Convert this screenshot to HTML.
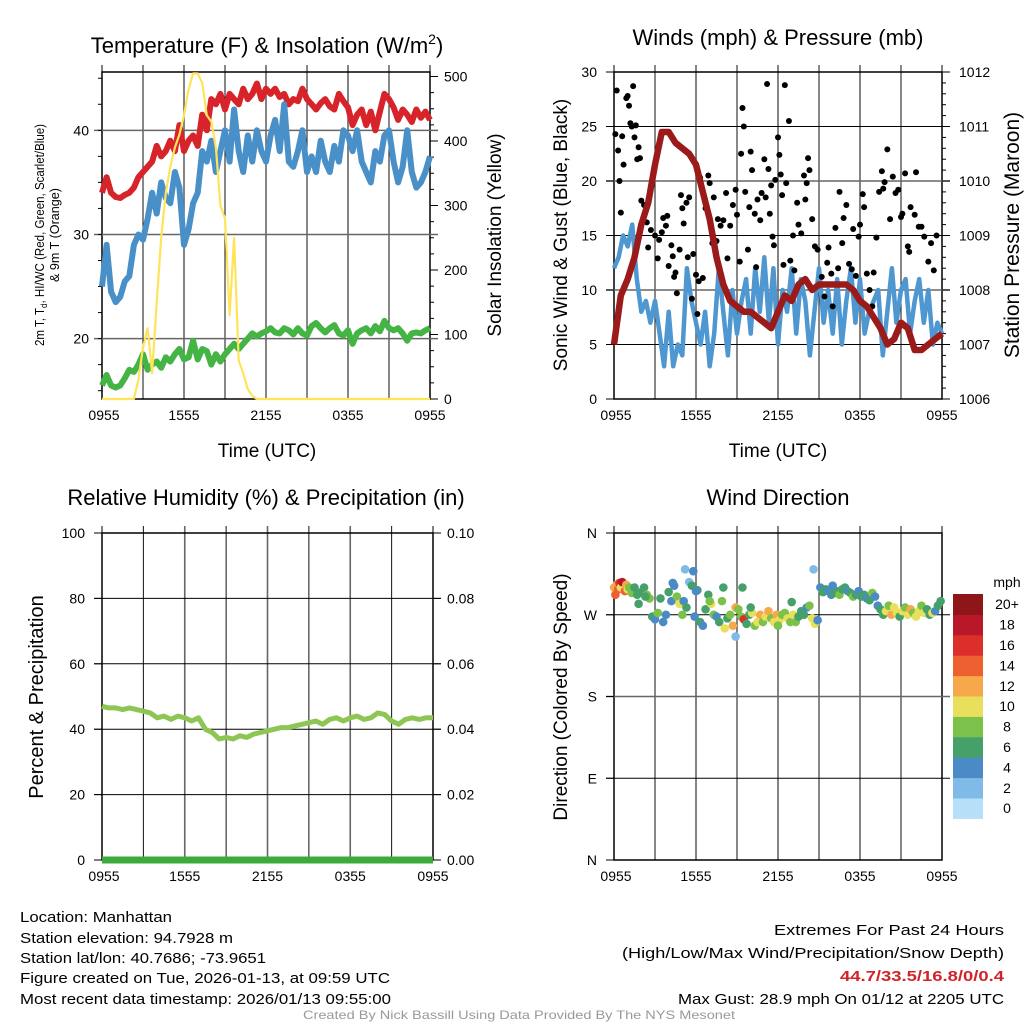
<!DOCTYPE html>
<html><head><meta charset="utf-8">
<style>
html,body{margin:0;padding:0;background:#fff;}
svg{display:block;font-family:"Liberation Sans",Arial,sans-serif;}
</style></head>
<body>
<svg id="chart" width="1024" height="1024" viewBox="0 0 1024 1024" xmlns="http://www.w3.org/2000/svg">
<rect width="1024" height="1024" fill="#fff"/>
<g id="p1"></g>
<g id="p2"></g>
<g id="p3"></g>
<g id="p4"></g>

<text x="267" y="53" font-size="22" text-anchor="middle">Temperature (F) &amp; Insolation (W/m<tspan font-size="14" dy="-9">2</tspan><tspan dy="9">)</tspan></text>
<text x="778" y="45" font-size="22" text-anchor="middle">Winds (mph) &amp; Pressure (mb)</text>
<text x="266" y="505" font-size="22" text-anchor="middle">Relative Humidity (%) &amp; Precipitation (in)</text>
<text x="778" y="505" font-size="22" text-anchor="middle">Wind Direction</text>

<text x="267" y="457" font-size="19" text-anchor="middle">Time (UTC)</text>
<text x="778" y="457" font-size="19" text-anchor="middle">Time (UTC)</text>

<text transform="translate(44,235) rotate(-90)" font-size="13" text-anchor="middle" textLength="222" lengthAdjust="spacingAndGlyphs">2m T, T<tspan font-size="9" dy="3">d</tspan><tspan dy="-3">, HI/WC (Red, Green, Scarlet/Blue)</tspan></text>
<text transform="translate(59,235) rotate(-90)" font-size="13" text-anchor="middle" textLength="94" lengthAdjust="spacingAndGlyphs">&amp; 9m T (Orange)</text>
<text transform="translate(501,235) rotate(-90)" font-size="19" text-anchor="middle">Solar Insolation (Yellow)</text>
<text transform="translate(567,235) rotate(-90)" font-size="19" text-anchor="middle">Sonic Wind &amp; Gust (Blue, Black)</text>
<text transform="translate(1019,235) rotate(-90)" font-size="21" text-anchor="middle">Station Pressure (Maroon)</text>
<text transform="translate(43,697) rotate(-90)" font-size="20" text-anchor="middle">Percent &amp; Precipitation</text>
<text transform="translate(567,697) rotate(-90)" font-size="19" text-anchor="middle">Direction (Colored By Speed)</text>

<g font-size="15">
<text x="20" y="922" textLength="152" lengthAdjust="spacingAndGlyphs">Location: Manhattan</text>
<text x="20" y="943" textLength="213" lengthAdjust="spacingAndGlyphs">Station elevation: 94.7928 m</text>
<text x="20" y="963" textLength="246" lengthAdjust="spacingAndGlyphs">Station lat/lon: 40.7686; -73.9651</text>
<text x="20" y="983" textLength="370" lengthAdjust="spacingAndGlyphs">Figure created on Tue, 2026-01-13, at 09:59 UTC</text>
<text x="20" y="1004" textLength="371" lengthAdjust="spacingAndGlyphs">Most recent data timestamp: 2026/01/13 09:55:00</text>
</g>
<g font-size="15">
<text x="774" y="935" textLength="230" lengthAdjust="spacingAndGlyphs">Extremes For Past 24 Hours</text>
<text x="622" y="958" textLength="382" lengthAdjust="spacingAndGlyphs">(High/Low/Max Wind/Precipitation/Snow Depth)</text>
<text x="840" y="981" fill="#d2232a" font-weight="bold" textLength="164" lengthAdjust="spacingAndGlyphs">44.7/33.5/16.8/0/0.4</text>
<text x="678" y="1004" textLength="326" lengthAdjust="spacingAndGlyphs">Max Gust: 28.9 mph On 01/12 at 2205 UTC</text>
</g>
<text x="303" y="1019" font-size="12" fill="#999" textLength="432" lengthAdjust="spacingAndGlyphs">Created By Nick Bassill Using Data Provided By The NYS Mesonet</text>
</svg>
<script>
// ---------- data ----------
const timeTicks = ["0955","1555","2155","0355","0955"];
const tempRed = [34,35.5,34,33.6,33.5,33.8,34,34.5,35.5,36,36.5,37,38.5,37.5,38,39,38,40.5,38,39,39.5,38.5,41.5,40,43,42.5,43.5,42,43.5,43,42.5,44,43,43.5,44.5,43,44,43.5,44,43.2,43.5,42.5,43,42.8,44,43,42.5,42,42.6,43,42.3,42,43.5,42.8,42.2,40.5,41.5,42,40.5,41.8,40,41.8,43.5,43,42.2,41,42,41.5,40.8,42,41.2,41.8,41];
const tempBlue = [25,29,24.5,23.5,24,25.5,26,29,30,29.5,31.5,34,32,35,33.5,33,36,34.5,29,30.5,33,34,38,37,39,36,38,40,37,42,38,36,39.5,37,40,38,37,39.5,41,38,42.5,37,36.5,38,40,36,37.5,36,39,37,36,38.5,37,40,39.5,38,40,37,36,35,38,37,39.5,40,37,35,36.5,40,36,34.5,35,36,37.5];
const dewGreen = [15.5,16.5,15.5,15.3,15.5,16.2,17,16.8,17.5,18.5,17,17.5,17.8,17.2,18.2,17.8,18.5,19,18,18.2,19.8,18,19,18.8,17.5,18.5,17.8,18.5,19,19.5,19,19.5,20,20.5,20.2,20.5,20.7,21,20.6,20.5,21,20.8,20.4,21,20.5,20.3,21.2,21.5,21,20.6,21,21.3,20.5,20.3,20.8,19.5,20.5,20.8,21,20.5,21.2,20.7,21.7,21,20.8,21,20.5,19.8,20.5,20.6,20.5,20.8,21];
const solar = [0,0,0,0,0,0,0,0,30,80,110,40,150,250,320,360,390,410,440,480,505,505,490,440,430,390,300,280,130,250,60,40,15,5,0,0,0,0,0,0,0,0,0,0,0,0,0,0,0,0,0,0,0,0,0,0,0,0,0,0,0,0,0,0,0,0,0,0,0,0,0,0,0];
const windSpeed = [12,13,15,14,16,11,8,9,7,9,6,3,8,3,5,4,12,9,7,5,8,3,6,12,8,4,10,6,9,11,6,12,8,13,7,12,5,10,8,12,6,11,9,4,8,12,7,10,6,11,5,9,12,7,11,6,8,9,10,4,8,12,7,10,11,6,9,11,7,10,5,7,6];
const pressure = [1007,1007.9,1008.2,1008.6,1009.2,1009.6,1010.3,1010.9,1010.9,1010.7,1010.6,1010.5,1010.3,1009.8,1009.3,1008.6,1008.1,1007.8,1007.7,1007.6,1007.6,1007.5,1007.4,1007.3,1007.6,1007.9,1007.8,1008.1,1008.2,1008.0,1008.1,1008.1,1008.1,1008.1,1008.1,1008.0,1007.8,1007.7,1007.5,1007.3,1007.0,1007.1,1007.4,1007.3,1006.9,1006.9,1007.0,1007.1,1007.2];
const gustHours = [0.1,0.2,0.3,0.4,0.5,0.6,0.7,0.9,1.0,1.1,1.2,1.3,1.4,1.5,1.6,1.7,1.8,1.9,2.0,2.2,2.4,2.5,2.7,2.8,3.0,3.2,3.3,3.5,3.6,3.8,3.9,4.0,4.2,4.3,4.4,4.5,4.6,4.8,4.9,5.0,5.1,5.3,5.4,5.5,5.7,5.8,6.0,6.1,6.2,6.3,6.5,6.7,6.9,7.0,7.2,7.3,7.5,7.6,7.8,8.0,8.2,8.3,8.5,8.7,8.9,9.0,9.2,9.3,9.4,9.5,9.6,9.8,9.9,10.0,10.1,10.3,10.4,10.5,10.7,10.8,11.0,11.1,11.2,11.3,11.4,11.5,11.6,11.7,11.8,12.0,12.1,12.2,12.3,12.4,12.5,12.6,12.8,12.9,13.1,13.2,13.4,13.5,13.7,13.9,14.0,14.1,14.2,14.3,14.5,14.7,14.9,15.1,15.2,15.4,15.6,15.7,15.9,16.0,16.2,16.4,16.5,16.7,16.8,17.0,17.2,17.4,17.5,17.7,17.9,18.0,18.2,18.3,18.5,18.7,18.9,19.0,19.2,19.4,19.6,19.7,19.8,20.0,20.2,20.4,20.6,20.8,21.0,21.1,21.3,21.5,21.6,21.7,22.0,22.1,22.3,22.5,22.7,23.0,23.2,23.4,23.6];
const gustValues = [24.3,28.3,22.8,20,17.1,24.1,21.5,27.6,27.8,26.9,25.3,25,28.7,24,25.1,22,23.1,22.1,18.2,17.8,16.2,13.9,15.5,20,15,12.9,14.6,15.3,16.6,15.9,16.8,12.2,14.1,13.1,11.2,11.6,9.7,13.7,18.7,17.5,16.1,18,13,18.5,9.2,13.3,11.4,7.8,10.8,20.3,11.1,17.5,20.5,19.8,14.3,18.5,14.5,16.5,15.9,16.4,18.9,12.9,15.9,17.8,19.2,16.9,12.6,22.5,26.7,25,19,13.7,17.6,22.7,21,17,12.1,18.3,16.4,18.9,22,18.5,28.9,21.1,17,19.6,14.9,14.1,20.1,24,22.4,20.6,18.7,12.3,28.8,19.8,25.5,12.7,15,11.8,18,16,15.2,20.5,18.3,19.8,22.1,21,16.5,14,13.7,10.5,11.2,9.4,12.5,13.9,11.5,8.5,15.7,12,19,14.3,16.6,17.8,12.4,11.9,15.6,11.3,14.9,16,18.8,17.6,11.5,10,8.5,11.6,14.8,19,20.9,19.3,19.9,22.9,16.5,20.4,18.9,19.2,16.7,17,20.7,14,13.5,17.6,16.9,20.8,15.8,15.8,14.9,12.6,14.3,11.8,15];
const humidity = [47,46.5,46.5,46,46.5,46,45.5,45,43.5,44,43,44,43.5,42.5,43.5,40,39,37,37.5,37,38,37.5,38.5,39,39.5,40,40.5,40.5,41,41.5,42,42.5,41.5,43,43.5,42.5,43.5,44,43,43.5,45,44.5,42.5,41.5,43,43.5,43,43.5,43.5];
const precip = [0,0,0,0,0,0,0,0,0,0,0,0,0,0,0,0,0,0,0,0,0,0,0,0,0];
const dirHours = [
 0.0,0.1,0.2,0.3,0.4,0.5,0.6,0.8,0.9,1.0,
 1.1,1.3,1.5,1.7,2.0,2.2,2.4,2.6,2.8,3.0,
 3.2,3.4,3.6,3.8,4.0,4.2,4.4,4.6,4.8,5.0,
 5.1,5.3,5.5,5.7,5.9,6.1,6.3,6.5,6.7,6.9,
 7.1,7.3,7.5,7.7,7.9,8.1,8.3,8.5,8.7,8.9,
 9.1,9.3,9.5,9.7,9.9,10.1,10.3,10.5,10.7,10.9,
 11.1,11.3,11.5,11.7,11.9,12.1,12.3,12.5,12.7,12.9,
 13.1,13.3,13.5,13.7,13.9,14.1,14.3,14.5,14.7,14.9,
 15.1,15.3,15.5,15.7,15.9,16.1,16.3,16.5,16.7,16.9,
 17.1,17.3,17.5,17.7,17.9,18.1,18.3,18.5,18.7,18.9,
 19.1,19.3,19.5,19.7,19.9,20.1,20.3,20.5,20.7,20.9,
 21.1,21.3,21.5,21.7,21.9,22.1,22.3,22.5,22.7,22.9,
 23.1,23.3,23.5,23.7,23.9,5.2,5.8,14.6,8.9,9.4,
 1.8,2.3,4.3,6.0,7.0,8.0,10.0,12.0,13.0,16.0];
const dirDegrees = [
 300,292,303,298,305,300,306,296,303,298,
 300,294,300,292,295,300,292,288,268,265,
 272,288,262,270,295,285,302,290,282,270,
 285,278,306,302,268,297,262,258,276,292,
 282,270,268,262,285,255,266,270,258,278,
 276,268,265,260,270,272,258,262,270,262,
 268,274,266,262,270,264,270,272,266,262,
 270,262,268,274,270,278,280,266,260,264,
 300,295,298,296,292,294,296,292,298,300,
 296,294,290,292,296,290,292,288,286,294,
 290,280,276,270,274,280,270,278,272,268,
 274,278,270,276,272,268,274,280,272,276,
 270,272,274,280,285,320,318,320,246,300,
 282,290,305,296,285,300,278,258,284,302];
const dirSpeeds = [
 12,14,13,15,16,11,18,14,12,10,
 9,8,7,6,7,6,9,8,6,5,
 8,6,4,4,6,4,5,9,11,8,
 4,6,3,6,4,7,6,4,6,7,
 10,9,5,6,8,10,6,8,12,12,
 9,8,16,6,7,10,8,11,13,8,
 10,12,9,11,12,10,8,9,10,8,
 10,9,7,6,6,4,8,10,10,4,
 4,6,6,5,5,6,7,8,6,6,
 4,6,8,7,5,6,6,4,6,8,
 4,4,6,7,10,9,12,10,11,6,
 10,9,11,12,9,10,11,8,10,6,
 7,10,4,6,7,2,4,2,3,6,
 6,7,5,4,8,6,7,9,6,5];
const windColors = ["#b5e0f7","#7fbbe6","#4a8bc6","#45a06a","#7cc24a","#e8e05a","#f6a84a","#ef6030","#dc2f2b","#b8182a","#8e1518"];
const cbLabels = ["0","2","4","6","8","10","12","14","16","18","20+"];

// ---------- helpers ----------
const NS = "http://www.w3.org/2000/svg";
function mk(parent, tag, attrs) {
  const e = document.createElementNS(NS, tag);
  for (const k in attrs) e.setAttribute(k, attrs[k]);
  parent.appendChild(e);
  return e;
}
function linScale(d0, d1, r0, r1) { return v => r0 + (v - d0) * (r1 - r0) / (d1 - d0); }
function frame(g, L, R, T, B) {
  for (let i = 1; i < 8; i++) {
    const x = L + (R - L) * i / 8;
    const ln = mk(g, "line", {x1: x, x2: x, y1: T - 7, y2: B, stroke: i % 2 ? "#111" : "#666", "stroke-width": i % 2 ? 1 : 1.6});
    
    
  }
  const bx = mk(g, "rect", {x: L, y: T, width: R - L, height: B - T, fill: "none", stroke: "#000", "stroke-width": 1.5});
  
  
  for (let i = 0; i <= 8; i += 8) {
    const x = L + (R - L) * i / 8;
    mk(g, "line", {x1: x, x2: x, y1: T - 7, y2: T, stroke: "#000", "stroke-width": 1});
  }
  for (let i = 0; i < timeTicks.length; i++) {
    const x = L + (R - L) * i / 4;
    const t = mk(g, "text", {x: i === 0 ? L + 2 : x, y: B + 21, "font-size": 14, "text-anchor": "middle"});
    t.textContent = timeTicks[i];
    
    
  }
}
function hGrid(g, L, R, y, major) {
  const ln = mk(g, "line", {x1: L - 8, x2: R + 8, y1: y, y2: y, stroke: major ? "#000" : "#666", "stroke-width": major ? 1 : 1.5});
  
  
}
function yLabel(g, x, y, txt, anchor) {
  const t = mk(g, "text", {x: x, y: y + 5, "font-size": 14, "text-anchor": anchor});
  t.textContent = txt;
  
  
}
function pathFrom(vals, xs, ys, hoursSpan) {
  let d = "";
  const n = vals.length;
  for (let i = 0; i < n; i++) {
    const h = i * hoursSpan / (n - 1);
    d += (i ? "L" : "M") + xs(h).toFixed(1) + "," + ys(vals[i]).toFixed(1);
  }
  return d;
}

// ---------- panel 1 ----------
(function () {
  const g = document.getElementById("p1");
  const L = 102, R = 430, T = 72, B = 399;
  const x = linScale(0, 24, L, R);
  const y = linScale(14.2, 45.6, B, T);
  const y2 = linScale(0, 507, B, T);
  frame(g, L, R, T, B);
  [20, 30, 40].forEach(v => { hGrid(g, L, R, y(v), false); yLabel(g, L - 13, y(v), String(v), "end"); });
  for (let v = 15; v <= 45; v += 2.5) mk(g, "line", {x1: L - 4, x2: L, y1: y(v), y2: y(v), stroke: "#000"});
  [0, 100, 200, 300, 400, 500].forEach(v => { mk(g, "line", {x1: R, x2: R + 8, y1: y2(v), y2: y2(v), stroke: "#000"}); yLabel(g, R + 14, y2(v), String(v), "start"); });
  for (let v = 25; v < 507; v += 25) mk(g, "line", {x1: R, x2: R + 4, y1: y2(v), y2: y2(v), stroke: "#000"});
  const s1 = mk(g, "path", {d: pathFrom(tempRed, x, y, 24), fill: "none", stroke: "#d7242a", "stroke-width": 6, "stroke-linejoin": "round"});
  
  
  const s2 = mk(g, "path", {d: pathFrom(tempBlue, x, y, 24), fill: "none", stroke: "#4a90c8", "stroke-width": 6, "stroke-linejoin": "round"});
  
  
  const s3 = mk(g, "path", {d: pathFrom(dewGreen, x, y, 24), fill: "none", stroke: "#44b444", "stroke-width": 6, "stroke-linejoin": "round"});
  
  
  const s4 = mk(g, "path", {d: pathFrom(solar, x, y2, 24), fill: "none", stroke: "#ffe45a", "stroke-width": 2.2, "stroke-linejoin": "round"});
  
  
})();

// ---------- panel 2 ----------
(function () {
  const g = document.getElementById("p2");
  const L = 614, R = 942, T = 72, B = 399;
  const x = linScale(0, 24, L, R);
  const y = linScale(0, 30, B, T);
  const y2 = linScale(1006, 1012, B, T);
  frame(g, L, R, T, B);
  [0, 5, 10, 15, 20, 25, 30].forEach(v => { if (v > 0 && v < 30) hGrid(g, L, R, y(v), v % 10 !== 0); mk(g, "line", {x1: L - 8, x2: L, y1: y(v), y2: y(v), stroke: "#000"}); yLabel(g, L - 17, y(v), String(v), "end"); });
  [1006, 1007, 1008, 1009, 1010, 1011, 1012].forEach(v => { mk(g, "line", {x1: R, x2: R + 8, y1: y2(v), y2: y2(v), stroke: "#000"}); yLabel(g, R + 17, y2(v), String(v), "start"); });
  for (let v = 1006.2; v < 1012; v += 0.2) mk(g, "line", {x1: R, x2: R + 4, y1: y2(v), y2: y2(v), stroke: "#000"});
  const s1 = mk(g, "path", {d: pathFrom(windSpeed, x, y, 24), fill: "none", stroke: "#4e97d1", "stroke-width": 4.5, "stroke-linejoin": "round"});
  
  
  const n = Math.min(gustHours.length, gustValues.length);
  for (let i = 0; i < n; i++) {
    const c = mk(g, "circle", {cx: x(gustHours[i]), cy: y(gustValues[i]), r: 3, fill: "#000"});
    
    
  }
  const s2 = mk(g, "path", {d: pathFrom(pressure, x, y2, 24), fill: "none", stroke: "#9b1a1a", "stroke-width": 6.5, "stroke-linejoin": "round"});
  
  
})();

// ---------- panel 3 ----------
(function () {
  const g = document.getElementById("p3");
  const L = 102, R = 433, T = 533, B = 860;
  const x = linScale(0, 24, L, R);
  const y = linScale(0, 100, B, T);
  const y2 = linScale(0, 0.1, B, T);
  frame(g, L, R, T, B);
  [0, 20, 40, 60, 80, 100].forEach(v => { if (v > 0 && v < 100) hGrid(g, L, R, y(v), true); mk(g, "line", {x1: L - 8, x2: L, y1: y(v), y2: y(v), stroke: "#000"}); yLabel(g, L - 17, y(v), String(v), "end"); });
  ["0.00", "0.02", "0.04", "0.06", "0.08", "0.10"].forEach(v => { const p = y2(parseFloat(v)); mk(g, "line", {x1: R, x2: R + 8, y1: p, y2: p, stroke: "#000"}); yLabel(g, R + 14, p, v, "start"); });
  const s1 = mk(g, "path", {d: pathFrom(humidity, x, y, 24), fill: "none", stroke: "#8dc653", "stroke-width": 5, "stroke-linejoin": "round"});
  
  
  const s2 = mk(g, "path", {d: pathFrom(precip, x, y2, 24), fill: "none", stroke: "#3caa3c", "stroke-width": 7});
  
  
})();

// ---------- panel 4 ----------
(function () {
  const g = document.getElementById("p4");
  const L = 614, R = 942, T = 533, B = 860;
  const x = linScale(0, 24, L, R);
  const y = linScale(0, 360, B, T);
  frame(g, L, R, T, B);
  [[0, "N"], [90, "E"], [180, "S"], [270, "W"], [360, "N"]].forEach(p => {
    if (p[0] > 0 && p[0] < 360) hGrid(g, L, R, y(p[0]), p[0] !== 180);
    mk(g, "line", {x1: L - 8, x2: L, y1: y(p[0]), y2: y(p[0]), stroke: "#000"});
    yLabel(g, L - 17, y(p[0]), p[1], "end");
  });
  const n = Math.min(dirHours.length, dirDegrees.length, dirSpeeds.length);
  for (let i = 0; i < n; i++) {
    const bin = Math.min(10, Math.floor(dirSpeeds[i] / 2));
    const c = mk(g, "circle", {cx: x(dirHours[i]), cy: y(dirDegrees[i]), r: 4.3, fill: windColors[bin]});
    
    
  }
  const cb = mk(g, "g", {});
  
  
  const cbTop = 594, cbH = 20.4;
  for (let i = 0; i < windColors.length; i++) {
    const yy = cbTop + (windColors.length - 1 - i) * cbH;
    const r = mk(cb, "rect", {x: 953, y: yy, width: 30, height: cbH + 0.5, fill: windColors[i]});
    
    
    const t = mk(cb, "text", {x: 1007, y: yy + cbH / 2 + 5, "font-size": 14, "text-anchor": "middle"});
    t.textContent = cbLabels[i];
    
    
  }
  const u = mk(cb, "text", {x: 1007, y: 587, "font-size": 14, "text-anchor": "middle"});
  u.textContent = "mph";
  
  
})();
</script>
</body></html>
